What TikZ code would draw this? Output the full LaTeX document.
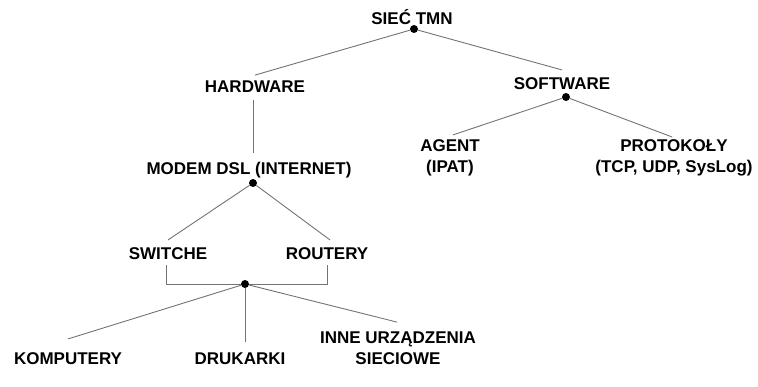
\documentclass[tikz,border=0pt]{standalone}
\usepackage{fontspec}
\setmainfont{Liberation Sans}
\usetikzlibrary{positioning}

\begin{document}
\begin{tikzpicture}[x=1pt, y=-1pt,
    lbl/.style={font=\bfseries\fontsize{17}{21}\selectfont, align=center, inner sep=0pt, anchor=base},
    dot/.style={circle, fill=black, inner sep=0pt, minimum size=8pt},
    link/.style={draw=black!55, line width=0.9pt}]

    \useasboundingbox (0,0) rectangle (758,387);

    % labels
    \node[lbl] (root) at (412,25) {SIEĆ TMN};
    \node[lbl] (hw) at (255,93) {HARDWARE};
    \node[lbl] (sw) at (562,90) {SOFTWARE};
    \node[lbl] (modem) at (249,175) {MODEM DSL (INTERNET)};
    \node[lbl] (switche) at (168,260) {SWITCHE};
    \node[lbl] (routery) at (327,260) {ROUTERY};
    \node[lbl] (agent) at (450,173) {AGENT\\(IPAT)};
    \node[lbl] (proto) at (674,173) {PROTOKOŁY\\(TCP, UDP, SysLog)};
    \node[lbl] (komp) at (68,365) {KOMPUTERY};
    \node[lbl] (druk) at (240,365) {DRUKARKI};
    \node[lbl] (inne) at (398,365) {INNE URZĄDZENIA\\SIECIOWE};

    % junctions
    \node[dot] (rootdot) at (414,29) {};
    \node[dot] (swdot) at (566,97) {};
    \node[dot] (mdot) at (253,183) {};
    \node[dot] (hub) at (245,284) {};

    % connectors
    \draw[link] (rootdot) -- ([yshift=6pt]hw.north);
    \draw[link] (rootdot) -- ([yshift=8pt]sw.north);
    \draw[link, shorten <=7pt, shorten >=9pt] (hw.south -| mdot) -- (modem.north -| mdot);
    \draw[link] (mdot) -- ([yshift=8pt]switche.north);
    \draw[link] (mdot) -- ([xshift=3pt, yshift=8pt]routery.north);
    \draw[link] (swdot) -- ([xshift=3pt, yshift=5pt]agent.north);
    \draw[link] (swdot) -- ([xshift=-2pt, yshift=3pt]proto.north);
    \draw[link] ([xshift=-2pt, yshift=-5pt]switche.south) |- (hub) -| ([yshift=-5pt]routery.south);
    \draw[link] (hub) -- ([yshift=14pt]komp.north);
    \draw[link, shorten >=11pt] (hub) -- (hub |- druk.north);
    \draw[link] (hub) -- ([xshift=-1pt, yshift=10pt]inne.north);
\end{tikzpicture}
\end{document}
